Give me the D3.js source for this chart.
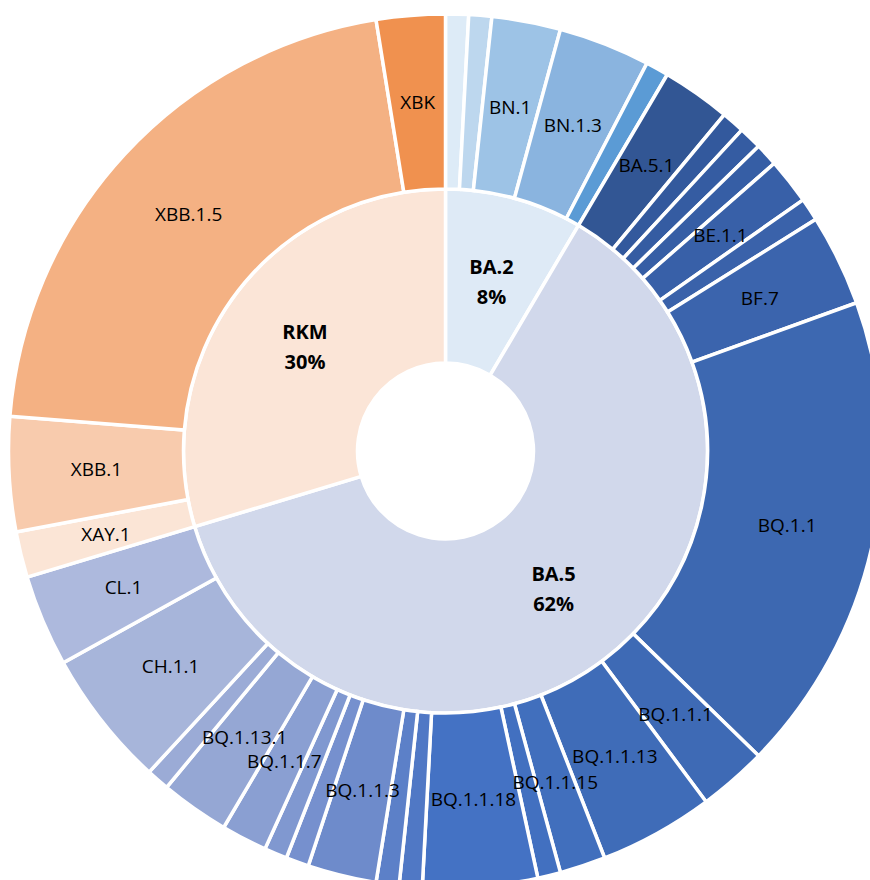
<!DOCTYPE html>
<html>
<head>
<meta charset="utf-8">
<script src="https://cdn.jsdelivr.net/npm/d3@7"></script>
<style>
  body { margin: 0; background: #fff; }
  svg { display: block; }
</style>
</head>
<body>
<div id="chart"></div>
<script>
// inner ring: lineages
var innerNames = ["BA.2", "BA.5", "RKM"];
var innerColors = ["#deeaf6", "#d1d8eb", "#fbe5d7"];

// outer ring: sublineages (counts), in drawing order
var outerParents = ["BA.2", "BA.2", "BA.2", "BA.2", "BA.2",
    "BA.5", "BA.5", "BA.5", "BA.5", "BA.5", "BA.5", "BA.5", "BA.5", "BA.5", "BA.5", "BA.5", "BA.5",
    "BA.5", "BA.5", "BA.5", "BA.5", "BA.5", "BA.5", "BA.5", "BA.5", "BA.5", "BA.5", "BA.5",
    "RKM", "RKM", "RKM", "RKM"];
var outerNames = ["", "", "BN.1", "BN.1.3", "",
    "BA.5.1", "", "", "", "BE.1.1", "", "BF.7", "BQ.1.1", "BQ.1.1.1", "BQ.1.1.13", "BQ.1.1.15", "",
    "BQ.1.1.18", "", "", "BQ.1.1.3", "", "", "BQ.1.1.7", "BQ.1.13.1", "", "CH.1.1", "CL.1",
    "XAY.1", "XBB.1", "XBB.1.5", "XBK"];
var outerCounts = [1, 1, 3, 4, 1,
    3, 1, 1, 1, 2, 1, 4, 21, 3, 5, 2, 1,
    5, 1, 1, 3, 1, 1, 2, 3, 1, 6, 4,
    2, 5, 25, 3];
var outerColors = ["#ddebf7", "#bdd7ee", "#9dc3e6", "#8ab4df", "#5b9bd5",
    "#325694", "#33599d", "#355ca2", "#365ea5", "#3860a8", "#3a62aa", "#3b64ad", "#3d68b1", "#3e6ab5", "#3f6cb8", "#416fbd", "#4270c0",
    "#4472c4", "#5078c5", "#5c80c8", "#6e8bcb", "#7690ce", "#8098d0", "#8a9fd2", "#95a7d4", "#9babd6", "#a7b5da", "#adb9dd",
    "#fbe5d6", "#f8cbad", "#f4b183", "#f0914f"];

var width = 870, height = 880, cx = 445.5, cy = 451;

var svg = d3.select("#chart").append("svg")
    .attr("width", width)
    .attr("height", height);

var g = svg.append("g")
    .attr("transform", "translate(" + cx + "," + cy + ")");

var data = {
    name: "root",
    children: innerNames.map(function (n, i) {
        return {
            name: n,
            color: innerColors[i],
            children: outerNames.map(function (m, j) {
                return { name: m, value: outerCounts[j], color: outerColors[j], parent: outerParents[j] };
            }).filter(function (c) { return c.parent === n; })
        };
    })
};

var root = d3.hierarchy(data).sum(function (d) { return d.children ? 0 : d.value; });
d3.partition().size([2 * Math.PI, 3])(root);

var r = d3.scaleLinear().domain([1, 2, 3]).range([88, 262, 437]);

var arc = d3.arc()
    .startAngle(function (d) { return d.x0; })
    .endAngle(function (d) { return d.x1; })
    .innerRadius(function (d) { return r(d.y0); })
    .outerRadius(function (d) { return r(d.y1); });

var nodes = root.descendants().filter(function (d) { return d.depth > 0; });

g.selectAll("path")
    .data(nodes)
    .enter().append("path")
    .attr("d", arc)
    .attr("fill", function (d) { return d.data.color; })
    .attr("stroke", "#fff")
    .attr("stroke-width", 3.5);

var pct = d3.format(".0%");

// inner labels, bold, two lines
var inner = g.selectAll(".inner")
    .data(root.children)
    .enter().append("text")
    .attr("class", "inner")
    .attr("transform", function (d) { return "translate(" + arc.centroid(d) + ")"; })
    .attr("text-anchor", "middle")
    .style("font-family", "'Open Sans', sans-serif")
    .style("font-size", "20px")
    .style("font-weight", "bold")
    .style("fill", "#000");
inner.append("tspan").attr("x", 0).attr("dy", "-0.4em").text(function (d) { return d.data.name; });
inner.append("tspan").attr("x", 0).attr("dy", "1.5em").text(function (d) { return pct(d.value / root.value); });

// outer labels
g.selectAll(".outer")
    .data(root.leaves().filter(function (d) { return d.data.name !== ""; }))
    .enter().append("text")
    .attr("class", "outer")
    .attr("transform", function (d) { return "translate(" + arc.centroid(d) + ")"; })
    .attr("text-anchor", "middle")
    .attr("dy", "0.35em")
    .style("font-family", "'Open Sans', sans-serif")
    .style("font-size", "19px")
    .style("fill", "#000")
    .text(function (d) { return d.data.name; });
</script>
</body>
</html>
